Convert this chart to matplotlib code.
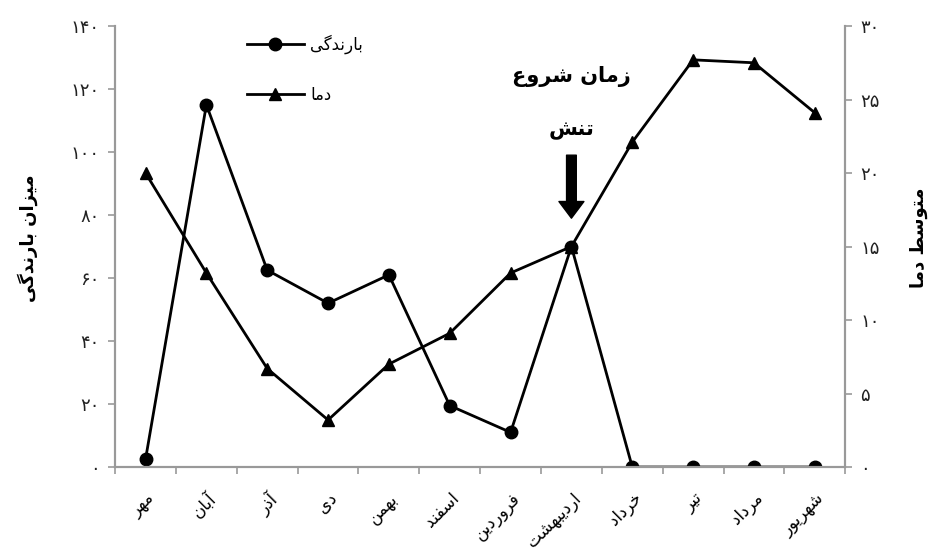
import matplotlib
matplotlib.use("Agg")
import matplotlib.pyplot as plt

# simple persian shaping (matplotlib does no arabic joining / bidi)
FORMS = {
    'ا': ('\uFE8D', '\uFE8E', None, None),
    'آ': ('\uFE81', '\uFE82', None, None),
    'ب': ('\uFE8F', '\uFE90', '\uFE91', '\uFE92'),
    'ت': ('\uFE95', '\uFE96', '\uFE97', '\uFE98'),
    'خ': ('\uFEA5', '\uFEA6', '\uFEA7', '\uFEA8'),
    'د': ('\uFEA9', '\uFEAA', None, None),
    'ذ': ('\uFEAB', '\uFEAC', None, None),
    'ر': ('\uFEAD', '\uFEAE', None, None),
    'ز': ('\uFEAF', '\uFEB0', None, None),
    'س': ('\uFEB1', '\uFEB2', '\uFEB3', '\uFEB4'),
    'ش': ('\uFEB5', '\uFEB6', '\uFEB7', '\uFEB8'),
    'ط': ('\uFEC1', '\uFEC2', '\uFEC3', '\uFEC4'),
    'ع': ('\uFEC9', '\uFECA', '\uFECB', '\uFECC'),
    'ف': ('\uFED1', '\uFED2', '\uFED3', '\uFED4'),
    'م': ('\uFEE1', '\uFEE2', '\uFEE3', '\uFEE4'),
    'ن': ('\uFEE5', '\uFEE6', '\uFEE7', '\uFEE8'),
    'ه': ('\uFEE9', '\uFEEA', '\uFEEB', '\uFEEC'),
    'و': ('\uFEED', '\uFEEE', None, None),
    'ی': ('\uFBFC', '\uFBFD', '\uFBFE', '\uFBFF'),
    'گ': ('\uFB92', '\uFB93', '\uFB94', '\uFB95'),
}

def fa(s):
    out = []
    for i, c in enumerate(s):
        if c not in FORMS:
            out.append(c)
            continue
        p = s[i - 1] if i > 0 else None
        n = s[i + 1] if i < len(s) - 1 else None
        pj = p in FORMS and FORMS[p][2] is not None
        nj = FORMS[c][2] is not None and n in FORMS
        iso, fin, ini, med = FORMS[c]
        if pj and nj:
            out.append(med)
        elif pj:
            out.append(fin)
        elif nj:
            out.append(ini)
        else:
            out.append(iso)
    return ''.join(out[::-1])

def fa_num(v):
    return str(v).translate(str.maketrans('0123456789', '۰۱۲۳۴۵۶۷۸۹'))

months = ['مهر', 'آبان', 'آذر', 'دی', 'بهمن', 'اسفند', 'فروردین',
          'اردیبهشت', 'خرداد', 'تیر', 'مرداد', 'شهریور']
rain = [2.5, 115, 62.5, 52, 61, 19.5, 11, 70, 0, 0, 0, 0]
temp = [20.0, 13.2, 6.7, 3.2, 7.0, 9.1, 13.2, 15.0, 22.1, 27.7, 27.5, 24.1]
rain_ticks = [0, 20, 40, 60, 80, 100, 120, 140]
temp_ticks = [0, 5, 10, 15, 20, 25, 30]

fig = plt.figure(figsize=(9.36, 5.54), dpi=100)
ax = fig.add_axes([0.123, 0.157, 0.78, 0.796])
ax2 = ax.twinx()

x = list(range(len(months)))
l1, = ax.plot(x, rain, color='black', lw=2, marker='o', ms=9)
l2, = ax2.plot(x, temp, color='black', lw=2, marker='^', ms=9)

gray = '#999999'
for a in (ax, ax2):
    a.spines['top'].set_visible(False)
    for s in ('left', 'right', 'bottom'):
        a.spines[s].set_color(gray)
        a.spines[s].set_linewidth(1.5)
    a.tick_params(colors=gray, labelcolor='#222222', length=5, width=1.2,
                  labelsize=13, pad=6)

ax.set_xlim(-0.5, 11.5)
ax.set_ylim(0, 140)
ax2.set_ylim(0, 30)
ax.set_yticks(rain_ticks)
ax.set_yticklabels([fa_num(v) for v in rain_ticks])
ax2.set_yticks(temp_ticks)
ax2.set_yticklabels([fa_num(v) for v in temp_ticks])

# ticks between categories, labels at centres
ax.set_xticks([i - 0.5 for i in range(13)])
ax.set_xticklabels([])
ax.set_xticks(x, minor=True)
ax.set_xticklabels([fa(m) for m in months], minor=True, rotation=45,
                   ha='right', va='top', rotation_mode='anchor', fontsize=12)
ax.tick_params(axis='x', which='minor', length=0, pad=16)

# axis titles
fig.text(0.030, 0.57, fa('میزان بارندگی'), rotation=90, ha='center', va='center',
         fontsize=13, fontweight='bold')
fig.text(0.982, 0.57, fa('متوسط دما'), rotation=90, ha='center', va='center',
         fontsize=13, fontweight='bold')

ax.text(7, 124, fa('زمان شروع'), ha='center', va='center', fontsize=15, fontweight='bold')
ax.text(7, 107, fa('تنش'), ha='center', va='center', fontsize=15, fontweight='bold')
ax.annotate('', xy=(7, 79), xytext=(7, 99),
            arrowprops=dict(width=7, headwidth=18, headlength=12, color='black'))

fig.legend([l1, l2], [fa('بارندگی'), fa('دما')], loc='upper left',
           bbox_to_anchor=(0.248, 0.965), frameon=False, fontsize=12,
           handlelength=3.4, labelspacing=1.9, handletextpad=0.4)

fig.savefig('out.png', dpi=100)
